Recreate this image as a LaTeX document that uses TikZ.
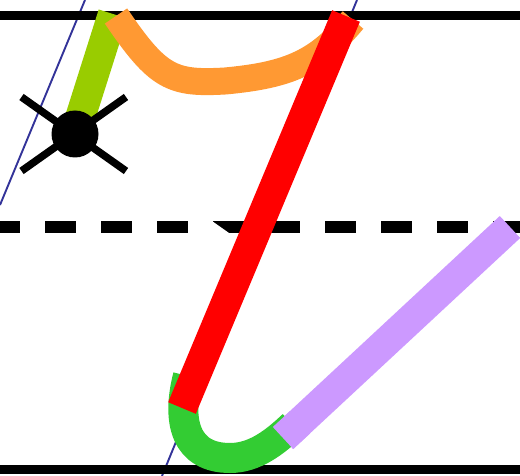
\documentclass[tikz,border=0pt]{standalone}
\begin{document}
\begin{tikzpicture}[x=1pt,y=-1pt,
  guide/.style={draw=black,line width=8.5pt},
  midline/.style={draw=black,line width=11.5pt,dash pattern=on 31pt off 25pt,dash phase=11pt},
  slant/.style={draw={rgb,255:red,51;green,51;blue,153},line width=1.9pt},
  stroke/.style={line width=30pt,line cap=butt},
  crossline/.style={draw=black,line width=7.5pt}]
\definecolor{cLime}{RGB}{153,204,0}
\definecolor{cOrange}{RGB}{255,153,51}
\definecolor{cRed}{RGB}{255,0,0}
\definecolor{cGreen}{RGB}{51,204,51}
\definecolor{cLilac}{RGB}{204,153,255}
\useasboundingbox (0,0) rectangle (520,476);
\fill[white] (0,0) rectangle (520,476);
% slant guide lines
\coordinate (s1a) at (85,0);   \coordinate (s1b) at (0,205);
\coordinate (s2a) at (357,0);  \coordinate (s2b) at (162,476);
\draw[slant] (s1a) -- (s1b);
\draw[slant] (s2a) -- (s2b);
% horizontal guides
\coordinate (t0) at (0,15.5);  \coordinate (t1) at (520,15.5);
\coordinate (m0) at (0,227);   \coordinate (m1) at (520,227);
\coordinate (b0) at (0,469.5); \coordinate (b1) at (520,469.5);
\draw[guide] (t0) -- (t1);
\draw[midline] (m0) -- (m1);
\fill[white] (212,221) -- (229,233) -- (212,233) -- cycle;
\draw[guide] (b0) -- (b1);
% lilac stroke
\draw[stroke,draw=cLilac] (283,438) -- (510,227);
% green hook
\draw[stroke,draw=cGreen] (188,376) .. controls (176,422) and (186,458) .. (230,458)
   .. controls (255,458) and (275,442) .. (293,425);
\draw[stroke,draw=cLilac] (283,438) -- (300,422.3);
% lime stroke
\draw[stroke,draw=cLime] (113,14) -- (75,134);
% orange stroke
\draw[line width=27pt,draw=cOrange] (116,16) .. controls (158,78) and (172,84) .. (225,81)
   .. controls (290,75) and (318,62) .. (353,20);
% red stroke
\draw[stroke,draw=cRed] (346,16) -- (182,408);
% circle and cross
\coordinate (c) at (75,134);
\draw[crossline] (21.5,97) -- (126,171);
\draw[crossline] (21.5,171) -- (126,97);
\fill[black] (c) circle (23.5);
\end{tikzpicture}
\end{document}
